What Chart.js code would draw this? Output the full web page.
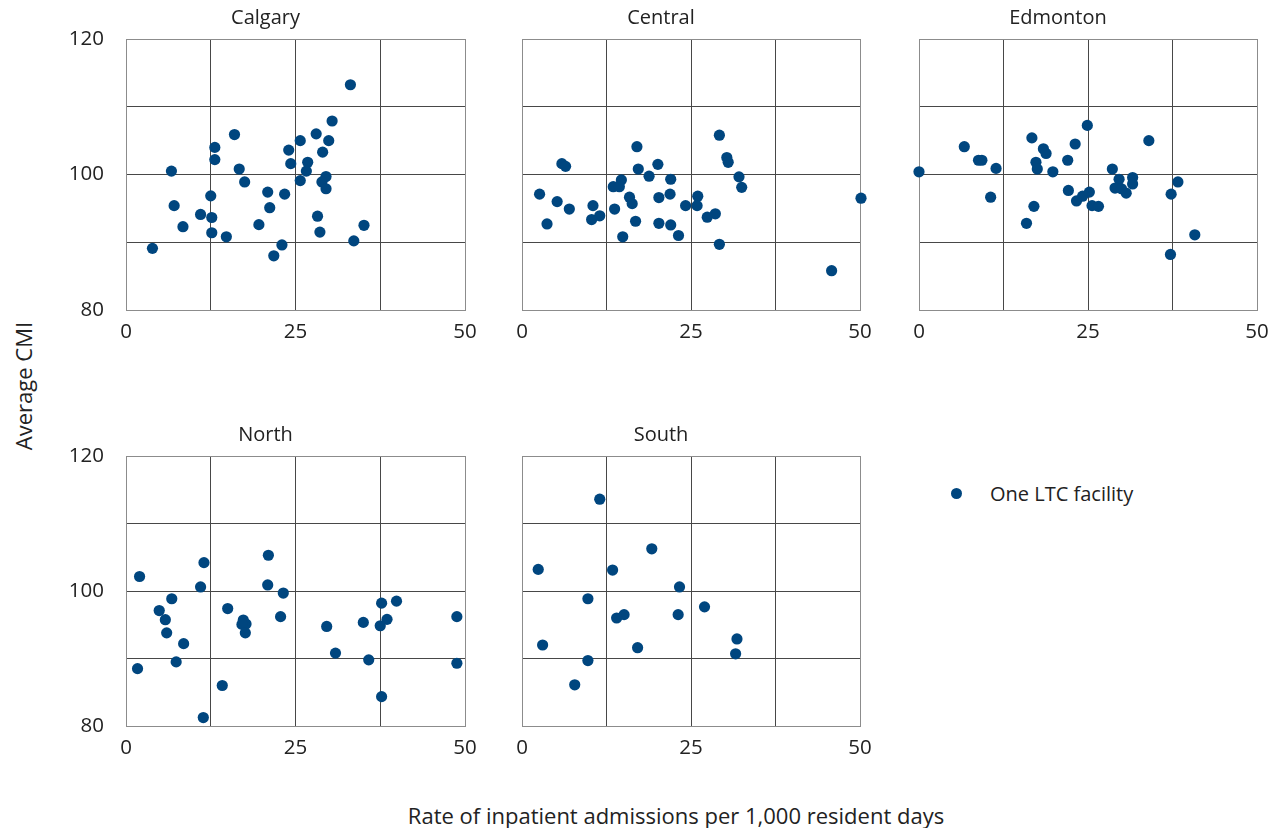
<!DOCTYPE html>
<html><head><meta charset="utf-8">
<script src="https://cdn.jsdelivr.net/npm/chart.js@4/dist/chart.umd.min.js"></script>
<style>
html,body{margin:0;padding:0;background:#fff;width:1268px;height:828px;overflow:hidden;font-family:'Open Sans',sans-serif;color:#222;}
canvas.pc{position:absolute;}
#ytitle{position:absolute;left:23px;top:386px;transform:translate(-50%,-50%) rotate(-90deg);font-size:22px;white-space:nowrap;}
#xtitle{position:absolute;left:676px;top:815px;transform:translate(-50%,-50%);font-size:22px;white-space:nowrap;}
#legend{position:absolute;left:951px;top:480px;height:26px;font-size:20px;white-space:nowrap;display:flex;align-items:center;}
#legend .dot{display:inline-block;width:11px;height:11px;border-radius:50%;background:#00467f;margin-right:28px;}
</style>
</head><body>
<div id="ytitle">Average CMI</div>
<div id="xtitle">Rate of inpatient admissions per 1,000 resident days</div>
<div id="legend"><span class="dot"></span><span>One LTC facility</span></div>
<script>
// ---- data ----
const regions = ["Calgary", "Central", "Edmonton", "North", "South"];
const seriesLabel = "One LTC facility";
const xTickLabels = [0, 25, 50];
const yTickLabels = [80, 100, 120];

const calgaryX = [33.1,30.4,16.0,28.05,25.7,29.9,13.1,24.0,29.0,13.1,24.3,26.8,6.7,16.7,26.6,29.5,17.5,25.7,28.9,29.5,12.5,20.9,23.4,7.1,21.2,11.0,12.65,28.25,8.4,19.6,35.1,12.65,14.8,28.6,23.0,33.6,3.9,21.8];
const calgaryY = [113.25,107.9,105.9,106.0,105.0,105.0,104.0,103.6,103.3,102.2,101.6,101.8,100.5,100.8,100.5,99.7,98.9,99.1,98.9,97.9,96.85,97.4,97.1,95.4,95.1,94.1,93.65,93.85,92.3,92.6,92.5,91.4,90.8,91.5,89.6,90.2,89.1,88.0];

const centralX = [29.2,17.0,30.3,30.5,5.9,6.45,20.1,17.2,18.8,32.1,22.0,14.7,13.5,14.4,32.5,2.6,21.9,15.9,20.25,26.0,50.15,5.2,16.3,24.2,25.9,10.5,7.0,13.7,28.6,27.4,11.5,10.3,16.8,3.7,20.25,22.0,23.15,14.9,29.2,45.8];
const centralY = [105.8,104.1,102.5,101.8,101.6,101.2,101.5,100.8,99.75,99.65,99.3,99.2,98.2,98.2,98.1,97.1,97.1,96.65,96.6,96.8,96.5,96.0,95.7,95.4,95.4,95.4,94.9,94.9,94.2,93.7,93.9,93.35,93.1,92.7,92.8,92.55,91.0,90.8,89.7,85.8];

const edmontonX = [24.9,16.7,34.0,6.7,23.1,18.4,18.8,22.0,8.8,9.3,17.3,11.4,17.5,0.0,19.8,28.6,29.6,31.6,31.6,38.3,29.0,29.95,30.65,22.1,25.2,24.2,37.3,10.6,23.3,25.6,26.55,17.0,15.9,40.8,37.2];
const edmontonY = [107.25,105.4,105.0,104.1,104.5,103.8,103.1,102.1,102.1,102.1,101.8,100.9,100.8,100.4,100.4,100.8,99.3,99.55,98.6,98.9,98.0,97.9,97.25,97.65,97.4,96.8,97.1,96.65,96.1,95.4,95.3,95.3,92.8,91.1,88.2];

const northX = [21.0,11.5,2.0,11.0,20.9,23.2,6.75,37.7,39.9,4.9,15.0,5.8,17.3,48.8,22.8,38.5,17.7,17.1,35.0,37.5,29.6,6.0,17.6,8.5,30.9,7.4,35.8,48.8,1.7,14.2,37.7,11.4];
const northY = [105.3,104.2,102.15,100.6,100.9,99.7,98.85,98.2,98.5,97.1,97.4,95.75,95.7,96.2,96.2,95.8,95.1,95.05,95.35,94.85,94.75,93.8,93.8,92.2,90.8,89.5,89.8,89.3,88.5,86.0,84.35,81.25];

const southX = [11.5,19.2,2.4,13.4,23.3,9.75,27.0,15.1,14.0,23.1,31.8,3.05,17.1,31.6,9.75,7.8];
const southY = [113.6,106.25,103.2,103.1,100.6,98.85,97.65,96.5,96.0,96.5,92.9,92.0,91.6,90.7,89.7,86.1];

// ---- layout ----
const FONT = "'Open Sans', sans-serif";
const TXT = '#222222';
const DOT = '#00467f';
const INNER = '#474747';
const OUTER = '#8c8c8c';
const LEFT_W = 60, TOP_H = 39, BOT_H = 40, RIGHT_P = 22;

const panels = [
  {name: regions[0], xs: calgaryX, ys: calgaryY, l: 126, t: 39, w: 339, h: 271, yLabels: true},
  {name: regions[1], xs: centralX, ys: centralY, l: 522, t: 39, w: 338, h: 271, yLabels: false},
  {name: regions[2], xs: edmontonX, ys: edmontonY, l: 919, t: 39, w: 338, h: 271, yLabels: false},
  {name: regions[3], xs: northX, ys: northY, l: 126, t: 456, w: 339, h: 270, yLabels: true},
  {name: regions[4], xs: southX, ys: southY, l: 522, t: 456, w: 338, h: 270, yLabels: false}
];

function makePanel(p) {
  const c = document.createElement('canvas');
  c.className = 'pc';
  const cw = LEFT_W + p.w + RIGHT_P, ch = TOP_H + p.h + BOT_H;
  c.width = cw; c.height = ch;
  c.style.left = (p.l - LEFT_W) + 'px';
  c.style.top = (p.t - TOP_H) + 'px';
  c.style.width = cw + 'px'; c.style.height = ch + 'px';
  document.body.appendChild(c);
  const pts = p.xs.map((x, i) => ({x: x, y: p.ys[i]}));
  new Chart(c, {
    type: 'scatter',
    data: {datasets: [{label: seriesLabel, data: pts, backgroundColor: DOT, borderWidth: 0, pointRadius: 5.6, pointHoverRadius: 5.6, clip: false}]},
    options: {
      responsive: false, animation: false, devicePixelRatio: 1,
      layout: {padding: {left: 0, right: RIGHT_P, top: 0, bottom: 0}},
      plugins: {
        legend: {display: false}, tooltip: {enabled: false},
        title: {display: true, text: p.name, color: TXT, font: {family: FONT, size: 20, weight: 'normal', lineHeight: 1.2}, padding: {top: 6, bottom: 9}}
      },
      scales: {
        x: {
          type: 'linear', min: 0, max: 50,
          afterBuildTicks: s => { s.ticks = [0, 12.5, 25, 37.5, 50].map(v => ({value: v})); },
          afterFit: s => { s.height = BOT_H; },
          ticks: {autoSkip: false, maxRotation: 0, padding: 9.7, color: TXT, font: {family: FONT, size: 20.5},
                  callback: v => xTickLabels.includes(v) ? String(v) : ''},
          grid: {drawTicks: false, lineWidth: 1, color: ctx => (ctx.tick && (ctx.tick.value === 0 || ctx.tick.value === 50)) ? OUTER : INNER},
          border: {display: true, color: OUTER, width: 1}
        },
        y: {
          type: 'linear', min: 80, max: 120,
          afterBuildTicks: s => { s.ticks = [80, 90, 100, 110, 120].map(v => ({value: v})); },
          afterFit: s => { s.width = LEFT_W; },
          ticks: {autoSkip: false, padding: 22, color: TXT, font: {family: FONT, size: 20.5},
                  callback: v => (p.yLabels && yTickLabels.includes(v)) ? String(v) : ''},
          grid: {drawTicks: false, lineWidth: 1, color: ctx => (ctx.tick && (ctx.tick.value === 80 || ctx.tick.value === 120)) ? OUTER : INNER},
          border: {display: true, color: OUTER, width: 1}
        }
      }
    }
  });
}
panels.forEach(makePanel);
</script>
</body></html>
